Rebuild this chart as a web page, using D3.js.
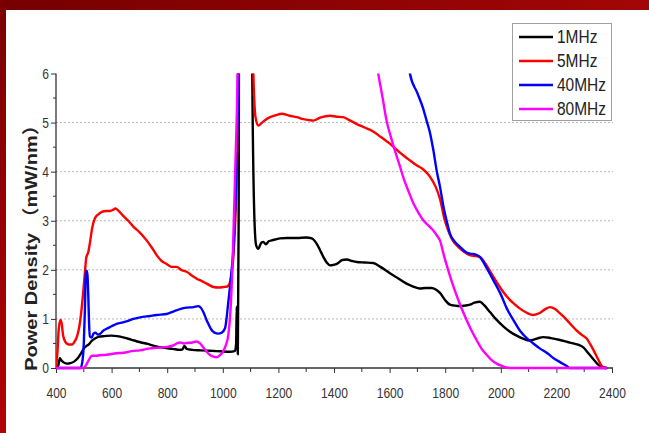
<!DOCTYPE html>
<html><head><meta charset="utf-8">
<script src="https://cdn.jsdelivr.net/npm/d3@7/dist/d3.min.js"></script>
<style>html,body{margin:0;padding:0;background:#fff;}svg{display:block;}</style>
</head><body>
<svg id="chart" width="649" height="433"></svg>
<script>
// ---- data (wavelength nm, power density mW/nm) ----
const seriesNames = ["1MHz", "5MHz", "40MHz", "80MHz"];
const seriesColors = ["#000000", "#ff0000", "#0000ff", "#ff00ff"];
const xTickValues = [400, 600, 800, 1000, 1200, 1400, 1600, 1800, 2000, 2200, 2400];
const yTickValues = [0, 1, 2, 3, 4, 5, 6];

const data1MHz = [[400,0],[408,0.05],[414,0.2],[420,0.15],[426,0.12],[440,0.09],[452,0.1],[465,0.13],[478,0.2],[490,0.3],[500,0.4],[510,0.45],[518,0.48],[528,0.55],[540,0.6],[555,0.64],[575,0.65],[600,0.66],[620,0.65],[645,0.62],[670,0.58],[700,0.53],[730,0.49],[760,0.44],[790,0.41],[820,0.39],[845,0.37],[855,0.38],[862,0.45],[870,0.39],[890,0.37],[920,0.36],[954,0.35],[990,0.34],[1026,0.33],[1044,0.35],[1048,0.5],[1050,1.25],[1052,0.6],[1054,0.28],[1057,3],[1060,12],[1100,12],[1106,6],[1114,3.0],[1120,2.5],[1128,2.43],[1138,2.55],[1146,2.57],[1155,2.52],[1165,2.58],[1176,2.6],[1190,2.62],[1206,2.64],[1230,2.65],[1266,2.65],[1300,2.66],[1320,2.64],[1338,2.53],[1350,2.4],[1362,2.26],[1375,2.14],[1386,2.09],[1398,2.1],[1410,2.12],[1430,2.2],[1446,2.21],[1465,2.18],[1482,2.16],[1510,2.15],[1541,2.14],[1570,2.05],[1601,1.93],[1630,1.83],[1661,1.72],[1685,1.66],[1709,1.62],[1730,1.63],[1751,1.63],[1766,1.6],[1781,1.53],[1800,1.38],[1817,1.29],[1835,1.27],[1853,1.26],[1870,1.27],[1889,1.29],[1905,1.33],[1925,1.35],[1940,1.28],[1961,1.14],[1985,0.98],[2009,0.85],[2033,0.74],[2057,0.66],[2080,0.6],[2105,0.56],[2130,0.6],[2153,0.63],[2180,0.61],[2213,0.57],[2240,0.53],[2261,0.5],[2280,0.47],[2297,0.42],[2315,0.3],[2333,0.18],[2350,0.07],[2363,0.03],[2380,0]];

const data5MHz = [[400,0],[405,0.3],[410,0.8],[416,0.98],[420,0.92],[426,0.65],[435,0.52],[445,0.48],[458,0.48],[468,0.55],[476,0.65],[484,0.85],[492,1.2],[498,1.55],[504,1.95],[509,2.25],[516,2.36],[522,2.55],[530,2.85],[540,3.05],[552,3.13],[565,3.18],[580,3.2],[594,3.2],[605,3.22],[614,3.25],[625,3.2],[640,3.11],[660,3.0],[680,2.87],[700,2.77],[726,2.6],[745,2.45],[762,2.3],[780,2.18],[798,2.12],[815,2.06],[834,2.06],[850,2.0],[870,1.96],[890,1.88],[906,1.82],[925,1.77],[942,1.72],[966,1.65],[985,1.64],[1002,1.65],[1016,1.66],[1026,1.75],[1034,2.0],[1044,2.9],[1050,4.0],[1056,6.2],[1060,12],[1100,12],[1110,6],[1118,5.1],[1128,4.94],[1145,5.02],[1170,5.11],[1190,5.15],[1212,5.18],[1240,5.14],[1266,5.11],[1290,5.07],[1310,5.05],[1326,5.04],[1350,5.1],[1370,5.13],[1386,5.14],[1410,5.12],[1433,5.11],[1455,5.05],[1482,4.97],[1510,4.9],[1541,4.82],[1570,4.7],[1601,4.57],[1625,4.45],[1650,4.33],[1673,4.23],[1700,4.12],[1720,4.05],[1745,3.9],[1765,3.7],[1781,3.45],[1799,3.0],[1811,2.8],[1825,2.62],[1841,2.5],[1865,2.38],[1889,2.3],[1910,2.28],[1925,2.26],[1950,2.08],[1973,1.86],[2000,1.62],[2021,1.46],[2045,1.32],[2069,1.21],[2095,1.12],[2117,1.08],[2140,1.12],[2160,1.2],[2177,1.24],[2195,1.2],[2210,1.13],[2225,1.05],[2250,0.9],[2273,0.76],[2295,0.66],[2309,0.6],[2322,0.48],[2333,0.37],[2348,0.2],[2363,0.04],[2375,0]];

const data40MHz = [[400,0],[488,0],[494,0.1],[500,0.5],[504,1.2],[507,1.9],[510,1.98],[513,1.9],[516,1.5],[519,0.9],[522,0.64],[528,0.62],[535,0.7],[542,0.72],[550,0.68],[560,0.7],[570,0.76],[582,0.8],[600,0.85],[618,0.9],[640,0.93],[654,0.95],[678,1.0],[702,1.03],[738,1.06],[762,1.08],[798,1.1],[822,1.15],[846,1.2],[870,1.23],[895,1.24],[912,1.26],[922,1.22],[930,1.14],[940,1.0],[948,0.9],[958,0.79],[970,0.72],[984,0.7],[996,0.72],[1008,0.81],[1020,1.35],[1030,1.9],[1040,2.6],[1048,3.8],[1055,6],[1060,12],[1600,12],[1640,8],[1660,6.5],[1673,6],[1700,5.6],[1720,5.3],[1733,5.04],[1745,4.8],[1757,4.45],[1770,4.0],[1781,3.7],[1795,3.25],[1805,3.0],[1817,2.74],[1835,2.57],[1853,2.47],[1870,2.38],[1889,2.33],[1905,2.32],[1925,2.26],[1950,2.03],[1973,1.79],[2000,1.5],[2021,1.22],[2045,0.98],[2069,0.76],[2095,0.6],[2117,0.5],[2140,0.4],[2165,0.31],[2190,0.2],[2213,0.12],[2237,0.04],[2248,0],[2380,0]];

const data80MHz = [[400,0],[498,0],[505,0.03],[512,0.1],[520,0.18],[528,0.25],[540,0.25],[558,0.26],[582,0.27],[618,0.3],[642,0.31],[678,0.35],[702,0.36],[738,0.4],[762,0.41],[798,0.43],[822,0.46],[835,0.5],[846,0.52],[860,0.5],[870,0.51],[890,0.52],[906,0.54],[918,0.5],[930,0.42],[942,0.33],[955,0.26],[966,0.23],[978,0.22],[990,0.26],[1000,0.33],[1010,0.45],[1020,0.68],[1028,1.2],[1035,2.1],[1044,3.9],[1052,5.6],[1058,8],[1066,12],[1500,12],[1530,7.5],[1545,6.5],[1559,6],[1575,5.5],[1589,5.04],[1605,4.7],[1619,4.43],[1635,4.15],[1649,3.89],[1668,3.6],[1686,3.35],[1705,3.15],[1721,3.01],[1740,2.9],[1757,2.8],[1770,2.7],[1781,2.6],[1796,2.28],[1811,1.99],[1826,1.72],[1841,1.48],[1853,1.3],[1877,0.98],[1895,0.76],[1913,0.57],[1930,0.4],[1949,0.27],[1967,0.16],[1985,0.09],[2005,0.04],[2021,0.01],[2040,0],[2380,0]];

const allSeries = [data1MHz, data5MHz, data40MHz, data80MHz];

// ---- drawing ----
const svg = d3.select("#chart");
const W = 649, H = 433;
const x = d3.scaleLinear().domain([400, 2400]).range([56, 612]);
const y = d3.scaleLinear().domain([0, 6]).range([368, 73.5]);

const defs = svg.append("defs");
const gTop = defs.append("linearGradient").attr("id","gTop").attr("x1","0").attr("x2","1").attr("y1","0").attr("y2","0");
gTop.append("stop").attr("offset","0").attr("stop-color","#760000");
gTop.append("stop").attr("offset","1").attr("stop-color","#a30606");
const gLeft = defs.append("linearGradient").attr("id","gLeft").attr("x1","0").attr("x2","0").attr("y1","0").attr("y2","1");
gLeft.append("stop").attr("offset","0").attr("stop-color","#7a0000");
gLeft.append("stop").attr("offset","1").attr("stop-color","#b20404");
defs.append("clipPath").attr("id","plotClip").append("rect")
  .attr("x", 56).attr("y", 73.5).attr("width", 558).attr("height", 300);

svg.append("rect").attr("width", W).attr("height", H).attr("fill", "#fff");
svg.append("rect").attr("x",0).attr("y",0).attr("width",W).attr("height",10).attr("fill","url(#gTop)");
svg.append("rect").attr("x",0).attr("y",0).attr("width",6).attr("height",H).attr("fill","url(#gLeft)");

// gridlines
svg.append("g").selectAll("line").data(yTickValues.filter(v => v > 0 && v < 6)).join("line")
  .attr("x1", 56).attr("x2", 613).attr("y1", d => y(d)).attr("y2", d => y(d))
  .attr("stroke", "#b8b8b8").attr("stroke-width", 1).attr("stroke-dasharray", "2,2");

// minor ticks
const xMinor = d3.range(500, 2400, 200);
svg.append("g").selectAll("line").data(xMinor).join("line")
  .attr("x1", d => x(d)).attr("x2", d => x(d)).attr("y1", 368).attr("y2", 372)
  .attr("stroke", "#333").attr("stroke-width", 1);
const yMinor = d3.range(0.5, 6, 1);
svg.append("g").selectAll("line").data(yMinor).join("line")
  .attr("x1", 53).attr("x2", 56).attr("y1", d => y(d)).attr("y2", d => y(d))
  .attr("stroke", "#333").attr("stroke-width", 1);

// axes
const xAxis = svg.append("g").attr("transform", "translate(0,368)")
  .call(d3.axisBottom(x).tickValues(xTickValues).tickSize(5).tickSizeOuter(0).tickFormat(d3.format("d")));
xAxis.select(".domain").attr("stroke", "#333").attr("stroke-width", 1.3).attr("d", "M56.5,0H613");
xAxis.selectAll(".tick line").attr("stroke", "#333");
xAxis.selectAll(".tick text").attr("y", 30.5).attr("dy", 0)
  .attr("transform", "scale(0.86,1)")
  .attr("x", 0)
  .style("font-family", "'Liberation Sans', Arial, sans-serif").style("font-size", "14px").attr("fill", "#333");

const yAxis = svg.append("g").attr("transform", "translate(56,0)")
  .call(d3.axisLeft(y).tickValues(yTickValues).tickSize(5).tickSizeOuter(0).tickFormat(d3.format("d")));
yAxis.select(".domain").attr("stroke", "#333").attr("stroke-width", 1.3).attr("d", "M0,73.5V368");
yAxis.selectAll(".tick line").attr("stroke", "#333");
yAxis.selectAll(".tick text").attr("x", 0).attr("dy", "0.35em")
  .attr("transform", "translate(-7,0) scale(0.86,1)")
  .style("font-family", "'Liberation Sans', Arial, sans-serif").style("font-size", "14px").attr("fill", "#333");

// series lines
const line = d3.line().x(d => x(d[0])).y(d => y(d[1])).curve(d3.curveMonotoneX);
const gLines = svg.append("g").attr("clip-path", "url(#plotClip)");
allSeries.forEach((s, i) => {
  gLines.append("path").datum(s).attr("d", line)
    .attr("fill", "none").attr("stroke", seriesColors[i])
    .attr("stroke-width", 2.4).attr("stroke-linejoin", "round").attr("stroke-linecap", "round");
});

// y-axis title
svg.append("text")
  .attr("transform", "translate(37,243) rotate(-90) scale(1,0.86)")
  .attr("text-anchor", "middle")
  .style("font-family", "'Liberation Sans', Arial, 'Noto Sans CJK SC', sans-serif")
  .style("font-weight", "bold").style("font-size", "20px").attr("fill", "#222")
  .text("Power Density （mW/nm）");

// legend
const lg = svg.append("g");
lg.append("rect").attr("x", 512.5).attr("y", 23.5).attr("width", 99).attr("height", 97)
  .attr("fill", "#fff").attr("stroke", "#a0a0a0").attr("stroke-width", 1);
seriesNames.forEach((n, i) => {
  const yy = 37 + i * 24;
  lg.append("line").attr("x1", 519).attr("x2", 553).attr("y1", yy).attr("y2", yy)
    .attr("stroke", seriesColors[i]).attr("stroke-width", 2.6);
  lg.append("text").attr("transform", `translate(557,${yy}) scale(0.86,1)`)
    .attr("dy", "0.36em")
    .style("font-family", "'Liberation Sans', Arial, sans-serif").style("font-size", "18px").attr("fill", "#222")
    .text(n);
});
</script>
</body></html>
